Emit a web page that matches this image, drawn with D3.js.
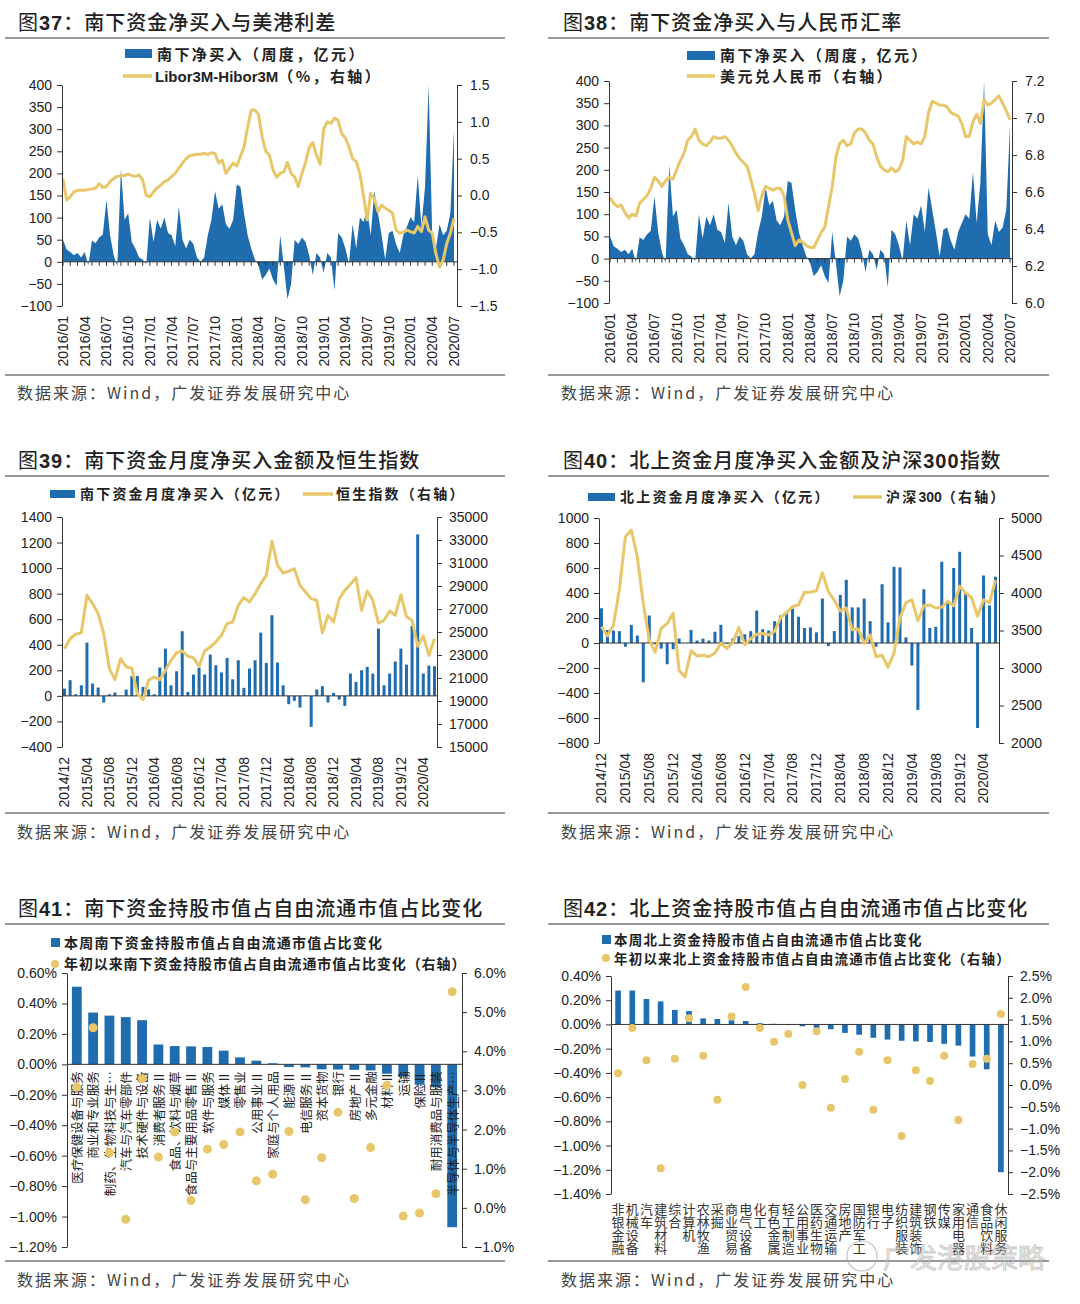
<!DOCTYPE html>
<html>
<head>
<meta charset="utf-8">
<script src="https://cdn.jsdelivr.net/npm/d3@7"></script>
<style>
  body { margin: 0; background: #fff; }
  svg { display: block; font-family: "Liberation Sans", Arial, sans-serif; }
  .cn { font-family: "Noto Sans CJK SC", sans-serif; }
  .vert { writing-mode: vertical-rl; text-orientation: upright; }
</style>
</head>
<body>
<svg id="chart" width="1080" height="1304"></svg>
<script>
// ---- weekly-ish series (two points a month), 2016/01 .. 2020/07
var weekTicks = ["2016/01","2016/04","2016/07","2016/10","2017/01","2017/04","2017/07","2017/10","2018/01","2018/04",
  "2018/07","2018/10","2019/01","2019/04","2019/07","2019/10","2020/01","2020/04","2020/07"]

var southNetBuy = [50,28, 22,15, 20,10, 22,-8, 48,42, 55,62, 140,60, 15,-10, 210,95, 110,45, 30,10, 5,-5,
  100,45, 95,75, 100,65, 60,35, 125,50, 30,50, 40,10, 0,10, 60,95, 160,120, 130,85, 75,95,
  175,170, 110,60, 30,5, -8,-40, -30,-15, -40,-55, 60,-10, -85,-50, 50,40, 55,45, 15,-30, 20,10,
  -25,20, 10,-65, 65,55, 30,-5, 85,30, 100,90, 120,60, 160,110, 60,5, 65,70, 40,20, 60,80,
  100,90, 195,80, 170,400, 55,30, 85,60, 70,110, 300]

var liborHibor = [0.23,-0.06, -0.02,0.05, 0.07,0.07, 0.07,0.08, 0.09,0.10, 0.16,0.11, 0.12,0.19, 0.23,0.26,
  0.27,0.27, 0.29,0.27, 0.26,0.28, 0.21,0.00,
  -0.02,0.05, 0.10,0.14, 0.19,0.21, 0.26,0.30, 0.37,0.44, 0.50,0.54, 0.55,0.56, 0.56,0.57,
  0.56,0.58, 0.57,0.44, 0.48,0.30, 0.37,0.44,
  0.40,0.53, 0.66,0.93, 1.16,1.16, 1.10,0.80, 0.60,0.55, 0.35,0.25, 0.30,0.32, 0.45,0.30,
  0.25,0.12, 0.30,0.45, 0.65,0.72, 0.55,0.42,
  0.90,1.00, 0.98,1.05, 1.02,0.84, 0.78,0.66, 0.50,0.46, 0.30,0.00, -0.33,0.03, -0.04,-0.22,
  -0.13,-0.17, -0.20,-0.24, -0.47,-0.51, -0.50,-0.47,
  -0.49,-0.51, -0.42,-0.49, -0.29,-0.47, -0.51,-0.79, -0.97,-0.88, -0.65,-0.51, -0.31]

var usdCny = [6.57,6.54, 6.52,6.53, 6.49,6.46, 6.48,6.47, 6.54,6.56, 6.58,6.62, 6.68,6.66, 6.63,6.66,
  6.68,6.67, 6.72,6.77, 6.81,6.88, 6.90,6.94,
  6.88,6.86, 6.85,6.87, 6.90,6.89, 6.89,6.90, 6.88,6.85, 6.81,6.78, 6.76,6.74, 6.67,6.59,
  6.50,6.58, 6.63,6.62, 6.61,6.62, 6.62,6.58,
  6.45,6.38, 6.31,6.34, 6.33,6.31, 6.30,6.30, 6.34,6.38, 6.41,6.52, 6.63,6.79, 6.86,6.88,
  6.85,6.86, 6.92,6.94, 6.94,6.92, 6.88,6.86,
  6.79,6.74, 6.72,6.71, 6.73,6.71, 6.72,6.77, 6.90,6.88, 6.86,6.87, 6.86,6.90, 7.03,7.09,
  7.08,7.07, 7.07,7.06, 7.03,7.02, 7.01,6.97,
  6.90,6.90, 6.98,7.02, 6.97,7.10, 7.07,7.08, 7.10,7.12, 7.08,7.04, 6.99]

// ---- monthly series, 2014/12 .. 2020/06
var monthTicks = ["2014/12","2015/04","2015/08","2015/12","2016/04","2016/08","2016/12","2017/04","2017/08",
  "2017/12","2018/04","2018/08","2018/12","2019/04","2019/08","2019/12","2020/04"]

var southMonthly = [57,123,13,83,417,96,65,-52,13,26, 2,50,154,156,70,50,13,222,370,83,
  193,506,31,167,219,167,323,240,183,297, 130,279,63,214,279,495,258,631,261,83,
  -65,-39,-91,5,-242,50,76,-52,23,-29, -78,175,110,201,227,175,527,83,175,269,
  370,245,547,1264,175,237,232]

var hsiMonthly = [23550,24420,24800,24940,28190,27470,26600,24860,21810,20860,
  22680,21960,21870,19640,19120,20800,21090,20860,21670,22540,
  23200,23350,22890,22770,22020,23350,23700,24130,24710,25730,
  25870,27320,27990,27610,28340,29200,29930,32890,30800,30130,
  30280,30510,29060,28480,27900,27760,24910,26450,25870,27900,
  28620,29150,29730,26890,28570,27760,25780,26020,26830,26450,
  28250,26320,26020,23760,24650,22970,24420]

var northMonthly = [278,104,100,95,-30,145,60,-315,220,-10, -45,-170,-50,35,0,105,20,35,20,90,
  145,-5,35,55,70,95,260,110,100,175, 220,240,275,210,120,125,85,355,-25,95,
  385,505,285,285,355,175,-30,470,165,610, 605,45,-180,-535,430,120,130,650,320,600,
  730,400,120,-680,540,300,530]

var csi300Monthly = [3550,3430,3570,4050,4750,4840,4480,3860,3370,3210,
  3530,3590,3730,2970,2880,3230,3160,3170,3150,3200,
  3330,3260,3340,3540,3310,3390,3450,3460,3440,3490,
  3670,3740,3820,3840,4010,4010,4030,4270,4020,3900,
  3760,3800,3510,3520,3330,3440,3150,3170,3010,3200,
  3670,3870,3910,3630,3830,3840,3800,3810,3890,3830,
  4090,4000,3940,3690,3910,3870,4170]

// ---- industry snapshots (%)
var southIndustries = ["医疗保健设备与服务","商业和专业服务","制药、生物科技与生…","汽车与汽车零部件","技术硬件与设备",
  "消费者服务Ⅱ","食品、饮料与烟草","食品与主要用品零售Ⅱ","软件与服务","媒体Ⅱ","零售业","公用事业Ⅱ",
  "家庭与个人用品","能源Ⅱ","电信服务Ⅱ","资本货物","银行","房地产Ⅱ","多元金融","材料Ⅱ","运输","保险Ⅱ",
  "耐用消费品与服装","半导体与半导体生产…"]
var southWeekChg = [0.51,0.34,0.32,0.31,0.29,0.13,0.12,0.118,0.114,0.09,0.046,0.024,
  0.007,-0.018,-0.02,-0.033,-0.034,-0.036,-0.04,-0.062,-0.08,-0.134,-0.15,-1.07]
var southYtdChg = [3.08,4.60,1.41,-0.29,3.30,1.30,1.94,0.19,1.50,1.62,1.94,0.69,
  0.86,1.95,0.21,1.28,2.44,0.24,1.54,3.13,-0.21,-0.13,0.36,5.52]

var northIndustries = ["非银金融","机械设备","汽车","建筑材料","综合","计算机","农林牧渔","采掘","商业贸易","电气设备",
  "化工","有色金属","轻工制造","公用事业","医药生物","交通运输","房地产","国防军工","银行","电子",
  "纺织服装","建筑装饰","钢铁","传媒","家用电器","通信","食品饮料","休闲服务"]
var northWeekChg = [0.28,0.28,0.21,0.19,0.12,0.11,0.05,0.045,0.035,0.028,
  0.01,0.005,-0.005,-0.015,-0.033,-0.04,-0.07,-0.085,-0.11,-0.125,
  -0.135,-0.14,-0.145,-0.16,-0.175,-0.265,-0.37,-1.22]
var northYtdChg = [0.27,1.31,0.57,-1.91,0.60,1.53,0.67,-0.34,1.57,2.25,
  1.31,0.99,1.17,0.00,1.23,-0.52,0.14,0.76,-0.57,0.57,
  -1.17,0.34,0.09,0.67,-0.80,0.48,0.60,1.63]

var blue = "#1f6caf", gold = "#e8c76b", ink = "#222", axisInk = "#333"
var svg = d3.select("#chart")

// ---------- frames: title, rules, source ----------
var cols = [{tx: 18, l0: 5, l1: 505, sx: 17}, {tx: 563, l0: 548, l1: 1049, sx: 561}]
var rows = [{ty: 30, line: 38, bot: 375, src: 399}, {ty: 468, line: 476, bot: 813, src: 838},
  {ty: 916, line: 924, bot: 1261, src: 1286}]
var titles = [["37","南下资金净买入与美港利差"],["38","南下资金净买入与人民币汇率"],
  ["39","南下资金月度净买入金额及恒生指数"],["40","北上资金月度净买入金额及沪深300指数"],
  ["41","南下资金持股市值占自由流通市值占比变化"],["42","北上资金持股市值占自由流通市值占比变化"]]

titles.forEach(function(t, i) {
  var c = cols[i % 2], r = rows[Math.floor(i / 2)]
  var tx = svg.append("text").attr("x", c.tx).attr("y", r.ty)
    .attr("font-size", 20).attr("fill", ink).style("letter-spacing", "1px")
  tx.append("tspan").attr("class", "cn").text("图")
  tx.append("tspan").attr("font-weight", "bold").text(t[0])
  // "300" inside title 40 is bold too
  var parts = t[1].split(/(300)/)
  parts.forEach(function(p, k) {
    if (!p) return
    var s = tx.append("tspan").text((k == 0 ? "：" : "") + p)
    if (p == "300") s.attr("font-weight", "bold")
    else s.attr("class", "cn").attr("font-weight", 500)
  })
  svg.append("line").attr("x1", c.l0).attr("x2", c.l1).attr("y1", r.line).attr("y2", r.line)
    .attr("stroke", "#777").attr("stroke-width", 1.3)
  svg.append("line").attr("x1", c.l0).attr("x2", c.l1).attr("y1", r.bot).attr("y2", r.bot)
    .attr("stroke", "#777").attr("stroke-width", 1.3)
  svg.append("text").attr("class", "cn").attr("x", c.sx).attr("y", r.src)
    .attr("font-size", 16).attr("fill", "#444").style("letter-spacing", "2px")
    .text("数据来源：Wind，广发证券发展研究中心")
})

function styleAxis(sel) {
  sel.attr("font-family", null).attr("font-size", null)
  sel.selectAll("text").attr("font-size", 14).attr("fill", ink)
  sel.selectAll("path,line").attr("stroke", axisInk)
}

function rotLabel(g, x, y, txt, size, cls) {
  return g.append("text").attr("class", cls || null)
    .attr("transform", "translate(" + x + "," + y + ") rotate(-90)")
    .attr("text-anchor", "end").attr("dy", "0.35em")
    .attr("font-size", size).attr("fill", ink).text(txt)
}

function legendRect(x, y, w, h) {
  svg.append("rect").attr("x", x).attr("y", y).attr("width", w).attr("height", h).attr("fill", blue)
}
function legendText(x, y, size, ls) {
  return svg.append("text").attr("x", x).attr("y", y).attr("font-size", size)
    .attr("fill", ink).attr("font-weight", "bold").style("letter-spacing", ls + "px")
}
function legendLine(x1, x2, y) {
  svg.append("line").attr("x1", x1).attr("x2", x2).attr("y1", y).attr("y2", y)
    .attr("stroke", gold).attr("stroke-width", 3.5)
}

var intFmt = d3.format("d")

// ---------- charts 37 / 38 ----------
function weeklyChart(c) {
  var g = svg.append("g")
  var x = d3.scaleLinear().domain([0, southNetBuy.length - 1]).range([c.x0, c.x1])
  var yL = d3.scaleLinear().domain([-100, 400]).range([c.yb, c.yt])
  var yR = d3.scaleLinear().domain(c.rDomain).range([c.yb, c.yt])

  g.append("path").datum(southNetBuy).attr("fill", blue)
    .attr("d", d3.area().x(function(d, i) { return x(i) }).y0(yL(0)).y1(function(d) { return yL(d) }))

  g.append("line").attr("x1", c.ax0).attr("x2", c.ax1).attr("y1", yL(0)).attr("y2", yL(0))
    .attr("stroke", axisInk)
  d3.range(0, southNetBuy.length, 2).forEach(function(i) {
    g.append("line").attr("x1", x(i)).attr("x2", x(i)).attr("y1", yL(0)).attr("y2", yL(0) + 4)
      .attr("stroke", axisInk)
  })

  g.append("path").datum(c.line).attr("fill", "none").attr("stroke", gold)
    .attr("stroke-width", 3).attr("stroke-linejoin", "round")
    .attr("d", d3.line().x(function(d, i) { return x(i) }).y(function(d) { return yR(d) }))

  g.append("g").attr("transform", "translate(" + c.ax0 + ",0)")
    .call(d3.axisLeft(yL).tickValues(d3.range(-100, 401, 50)).tickFormat(intFmt)
      .tickSize(5).tickSizeOuter(0).tickPadding(5))
    .call(styleAxis)
  g.append("g").attr("transform", "translate(" + c.ax1 + ",0)")
    .call(d3.axisRight(yR).tickValues(c.rTicks).tickFormat(d3.format(".1f")).tickSize(5).tickSizeOuter(0).tickPadding(8))
    .call(styleAxis)

  weekTicks.forEach(function(t, k) { rotLabel(g, x(k * 6), c.yb + 10, t, 14) })
}

weeklyChart({x0: 63, x1: 454, ax0: 62, ax1: 457, yt: 85, yb: 306, rDomain: [-1.5, 1.5],
  rTicks: [-1.5, -1, -0.5, 0, 0.5, 1, 1.5], line: liborHibor})
weeklyChart({x0: 610, x1: 1010, ax0: 609, ax1: 1012, yt: 81, yb: 303, rDomain: [6.0, 7.2],
  rTicks: [6.0, 6.2, 6.4, 6.6, 6.8, 7.0, 7.2], line: usdCny})

legendRect(125, 49, 27, 9)
legendText(157, 60, 15, 2.4).append("tspan").attr("class", "cn").text("南下净买入（周度，亿元）")
legendLine(123, 152, 76)
var lt = legendText(155, 82, 15, 0)
lt.append("tspan").text("Libor3M-Hibor3M")
lt.append("tspan").attr("class", "cn").style("letter-spacing", "2.4px").text("（%，右轴）")

legendRect(687, 51, 28, 9)
legendText(720, 61, 15, 2.4).attr("class", "cn").text("南下净买入（周度，亿元）")
legendLine(687, 715, 76)
legendText(720, 82, 15, 2.4).attr("class", "cn").text("美元兑人民币（右轴）")

// ---------- charts 39 / 40 ----------
function monthlyChart(c) {
  var g = svg.append("g")
  var x = d3.scaleLinear().domain([0, c.bars.length - 1]).range([c.x0, c.x1])
  var yL = d3.scaleLinear().domain(c.lDomain).range([c.yb, c.yt])
  var yR = d3.scaleLinear().domain(c.rDomain).range([c.yb, c.yt])

  g.selectAll("rect.bar").data(c.bars).enter().append("rect").attr("class", "bar")
    .attr("x", function(d, i) { return x(i) - 1.5 }).attr("width", 3)
    .attr("y", function(d) { return yL(Math.max(0, d)) })
    .attr("height", function(d) { return Math.abs(yL(d) - yL(0)) })
    .attr("fill", blue)

  g.append("line").attr("x1", c.ax0).attr("x2", c.ax1).attr("y1", yL(0)).attr("y2", yL(0))
    .attr("stroke", axisInk)

  g.append("path").datum(c.line).attr("fill", "none").attr("stroke", gold)
    .attr("stroke-width", 3).attr("stroke-linejoin", "round")
    .attr("d", d3.line().x(function(d, i) { return x(i) }).y(function(d) { return yR(d) }))

  g.append("g").attr("transform", "translate(" + c.ax0 + ",0)")
    .call(d3.axisLeft(yL).tickValues(c.lTicks).tickFormat(intFmt).tickSize(5).tickSizeOuter(0).tickPadding(5))
    .call(styleAxis)
  g.append("g").attr("transform", "translate(" + c.ax1 + ",0)")
    .call(d3.axisRight(yR).tickValues(c.rTicks).tickFormat(intFmt).tickSize(5).tickSizeOuter(0).tickPadding(7))
    .call(styleAxis)

  monthTicks.forEach(function(t, k) { rotLabel(g, x(k * 4), c.yb + 10, t, 14) })
}

monthlyChart({bars: southMonthly, line: hsiMonthly, x0: 64.5, x1: 434.5, ax0: 62, ax1: 437, yt: 517, yb: 747,
  lDomain: [-400, 1400], lTicks: d3.range(-400, 1401, 200),
  rDomain: [15000, 35000], rTicks: d3.range(15000, 35001, 2000)})
monthlyChart({bars: northMonthly, line: csi300Monthly, x0: 601.5, x1: 995.5, ax0: 599, ax1: 999, yt: 518, yb: 743,
  lDomain: [-800, 1000], lTicks: d3.range(-800, 1001, 200),
  rDomain: [2000, 5000], rTicks: d3.range(2000, 5001, 500)})

legendRect(50, 490, 25, 8)
legendText(80, 499, 14, 2.2).attr("class", "cn").text("南下资金月度净买入（亿元）")
legendLine(303, 333, 494)
legendText(336, 499, 14, 2.2).attr("class", "cn").text("恒生指数（右轴）")

legendRect(588, 493, 27, 8)
legendText(620, 502, 14, 2.2).attr("class", "cn").text("北上资金月度净买入（亿元）")
legendLine(853, 882, 497)
var lt40 = legendText(886, 502, 14, 2.2)
lt40.append("tspan").attr("class", "cn").text("沪深")
lt40.append("tspan").style("letter-spacing", "0px").text("300")
lt40.append("tspan").attr("class", "cn").text("（右轴）")

// ---------- charts 41 / 42 ----------
function pctFmt(f) { return function(d) { return d3.format(f)(d) + "%" } }

function industryChart(c) {
  var g = svg.append("g")
  var x = d3.scaleBand().domain(c.cats).range([c.ax0, c.ax1]).paddingInner(c.pin).paddingOuter(c.pout)
  var yL = d3.scaleLinear().domain(c.lDomain).range([c.yb, c.yt])
  var yR = d3.scaleLinear().domain(c.rDomain).range([c.yb, c.yt])
  var cx = function(d) { return x(d) + x.bandwidth() / 2 }

  g.selectAll("rect.bar").data(c.cats).enter().append("rect").attr("class", "bar")
    .attr("x", function(d) { return x(d) }).attr("width", x.bandwidth())
    .attr("y", function(d, i) { return yL(Math.max(0, c.week[i])) })
    .attr("height", function(d, i) { return Math.abs(yL(c.week[i]) - yL(0)) })
    .attr("fill", blue)

  g.append("line").attr("x1", c.ax0).attr("x2", c.ax1).attr("y1", yL(0)).attr("y2", yL(0))
    .attr("stroke", axisInk)

  g.append("g").attr("transform", "translate(" + c.ax0 + ",0)")
    .call(d3.axisLeft(yL).tickValues(c.lTicks).tickFormat(pctFmt(".2f")).tickSize(5).tickSizeOuter(0).tickPadding(5))
    .call(styleAxis)
  g.append("g").attr("transform", "translate(" + c.ax1 + ",0)")
    .call(d3.axisRight(yR).tickValues(c.rTicks).tickFormat(pctFmt(".1f")).tickSize(5).tickSizeOuter(0).tickPadding(7))
    .call(styleAxis)

  c.labels(g, x, cx, yL)

  g.selectAll("circle.dot").data(c.cats).enter().append("circle").attr("class", "dot")
    .attr("cx", cx).attr("cy", function(d, i) { return yR(c.ytd[i]) })
    .attr("r", c.r).attr("fill", gold)
}

industryChart({cats: southIndustries, week: southWeekChg, ytd: southYtdChg, ax0: 67, ax1: 462,
  pin: 0.4, pout: 0.3, yt: 973, yb: 1247, r: 4.5,
  lDomain: [-1.2, 0.6], lTicks: d3.range(-6, 4).map(function(v) { return v / 5 }),
  rDomain: [-1, 6], rTicks: d3.range(-1, 7),
  labels: function(g, x, cx, yL) {
    southIndustries.forEach(function(d) { rotLabel(g, cx(d) + 1, yL(0) + 7, d, 12.5, "cn") })
  }})

industryChart({cats: northIndustries, week: northWeekChg, ytd: northYtdChg, ax0: 611, ax1: 1008,
  pin: 0.6, pout: 0.3, yt: 976, yb: 1194, r: 4,
  lDomain: [-1.4, 0.4], lTicks: d3.range(-7, 3).map(function(v) { return v / 5 }),
  rDomain: [-2.5, 2.5], rTicks: d3.range(-5, 6).map(function(v) { return v / 2 }),
  labels: function(g, x, cx) {
    // one character per line, stacked top to bottom
    northIndustries.forEach(function(d) {
      g.append("text").attr("class", "cn vert").attr("x", cx(d)).attr("y", 1203)
        .attr("font-size", 13).attr("fill", "#333").text(d)
    })
  }})

svg.append("rect").attr("x", 51).attr("y", 938).attr("width", 9).attr("height", 9).attr("fill", blue)
legendText(64, 948, 14, 1.2).attr("class", "cn").text("本周南下资金持股市值占自由流通市值占比变化")
svg.append("circle").attr("cx", 55).attr("cy", 964).attr("r", 4).attr("fill", gold)
legendText(64, 969, 14, 0.9).attr("class", "cn").text("年初以来南下资金持股市值占自由流通市值占比变化（右轴）")

svg.append("rect").attr("x", 602).attr("y", 935).attr("width", 9).attr("height", 9).attr("fill", blue)
legendText(614, 945, 13.5, 1.2).attr("class", "cn").text("本周北上资金持股市值占自由流通市值占比变化")
svg.append("circle").attr("cx", 606).attr("cy", 958).attr("r", 4).attr("fill", gold)
legendText(614, 964, 13.5, 1.2).attr("class", "cn").text("年初以来北上资金持股市值占自由流通市值占比变化（右轴）")

// watermark
var wm = svg.append("g").attr("opacity", 0.55)
wm.append("circle").attr("cx", 862).attr("cy", 1256).attr("r", 15)
  .attr("fill", "none").attr("stroke", "#aaa").attr("stroke-width", 1.5)
wm.append("text").attr("class", "cn").attr("x", 883).attr("y", 1268).attr("font-size", 27)
  .attr("fill", "#d8d8d8").attr("stroke", "#999").attr("stroke-width", 0.8).text("广发港股策略")
</script>
</body>
</html>
